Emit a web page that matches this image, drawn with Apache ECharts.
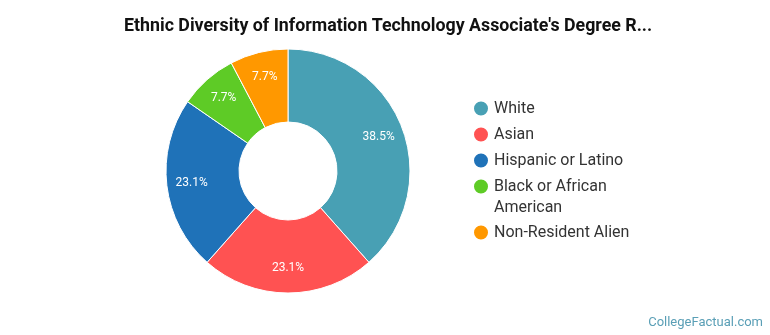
<!DOCTYPE html>
<html>
<head>
<meta charset="utf-8">
<script src="https://cdn.jsdelivr.net/npm/echarts@6/dist/echarts.min.js"></script>
<style>
  html, body { margin: 0; padding: 0; background: #fff; }
  #chart { width: 770px; height: 335px; }
</style>
</head>
<body>
<div id="chart"></div>
<script>
// data (13 graduates in total)
var categories = ['White', 'Asian', 'Hispanic or Latino', 'Black or African American', 'Non-Resident Alien'];
var counts = [5, 3, 3, 1, 1];
var colors = ['#48a0b4', '#ff5252', '#1f72b8', '#5ecb26', '#ff9800'];

var total = counts.reduce(function (a, b) { return a + b; }, 0);
var pieData = categories.map(function (c, i) {
    return { name: c, value: counts[i] };
});

var myChart = echarts.init(document.getElementById('chart'));

var legendText = { fontFamily: 'Roboto', fontSize: 16, color: '#333', lineHeight: 21 };
// circle sitting at the top of a taller box, so it lines up with the first line of a wrapped name
var tallCircle = 'path://M0,8a8,8 0 1,0 16,0a8,8 0 1,0 -16,0ZM8,37L8,37';

function legendBox(top, names, extra) {
    var l = {
        orient: 'vertical',
        left: 472,
        top: top,
        padding: 0,
        itemGap: 5,
        itemWidth: 16,
        itemHeight: 16,
        icon: 'circle',
        textStyle: legendText,
        data: names
    };
    return Object.assign(l, extra || {});
}

var option = {
    animation: false,
    textStyle: { fontFamily: 'Roboto' },
    color: colors,
    title: [
        {
            text: "Ethnic Diversity of Information Technology Associate's Degree R...",
            left: 124,
            top: 17,
            padding: 0,
            textStyle: { fontFamily: 'Roboto', fontSize: 17.8, fontWeight: 'bold', color: '#111', lineHeight: 20 }
        },
        {
            text: 'CollegeFactual.com',
            right: 7,
            bottom: 6,
            padding: 0,
            textStyle: { fontFamily: 'Roboto', fontSize: 13, fontWeight: 'normal', color: '#5a9fb6' }
        }
    ],
    legend: [
        legendBox(98, categories.slice(0, 3)),
        legendBox(176, [categories[3]], {
            itemHeight: 37,
            icon: tallCircle,
            textStyle: Object.assign({}, legendText, { width: 150, overflow: 'break' })
        }),
        legendBox(222, [categories[4]])
    ],
    series: [
        {
            type: 'pie',
            center: [288, 171],
            radius: [49, 122],
            startAngle: 90,
            clockwise: true,
            itemStyle: { borderColor: '#fff', borderWidth: 1 },
            label: { show: false },
            labelLine: { show: false },
            emphasis: { scale: false },
            data: pieData
        },
        {
            // transparent copy that only carries the percentage labels a bit further out
            type: 'pie',
            center: [288, 171],
            radius: [66, 122],
            startAngle: 90,
            clockwise: true,
            silent: true,
            itemStyle: { color: 'transparent', borderWidth: 0 },
            label: {
                position: 'inside',
                color: '#fff',
                fontSize: 12,
                fontFamily: 'Roboto',
                formatter: function (p) {
                    return (p.value / total * 100).toFixed(1) + '%';
                }
            },
            labelLine: { show: false },
            emphasis: { disabled: true },
            data: pieData
        }
    ]
};

myChart.setOption(option);
</script>
</body>
</html>
